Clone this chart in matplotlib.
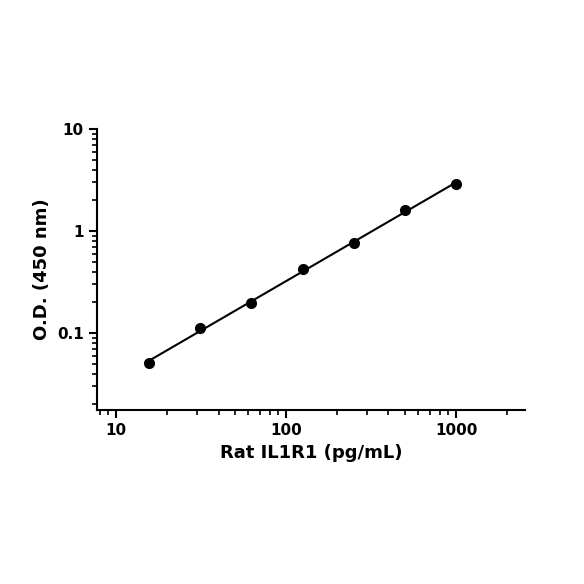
import numpy as np
import matplotlib
matplotlib.use('Agg')
import matplotlib.pyplot as plt
from matplotlib.ticker import LogLocator, NullFormatter, FixedFormatter, FixedLocator

conc = [15.6, 31.25, 62.5, 125, 250, 500, 1000]
od = [0.051, 0.112, 0.197, 0.42, 0.76, 1.6, 2.9]

fig = plt.figure(figsize=(5.84, 5.84), dpi=100)
ax = fig.add_axes([0.166, 0.298, 0.733, 0.481])

# straight line fit in log-log space
p = np.polyfit(np.log10(conc), np.log10(od), 1)
xf = np.logspace(np.log10(conc[0]), np.log10(conc[-1]), 50)
ax.plot(xf, 10 ** np.polyval(p, np.log10(xf)), color='black', lw=1.5)
ax.plot(conc, od, 'o', color='black', ms=7)

ax.set_xscale('log')
ax.set_yscale('log')
ax.set_xlim(7.7, 2545)
ax.set_ylim(0.0176, 10)

ax.xaxis.set_major_locator(FixedLocator([10, 100, 1000]))
ax.xaxis.set_major_formatter(FixedFormatter(['10', '100', '1000']))
ax.yaxis.set_major_locator(FixedLocator([0.1, 1, 10]))
ax.yaxis.set_major_formatter(FixedFormatter(['0.1', '1', '10']))
ax.xaxis.set_minor_locator(LogLocator(base=10, subs=np.arange(2, 10)))
ax.yaxis.set_minor_locator(LogLocator(base=10, subs=np.arange(2, 10)))
ax.xaxis.set_minor_formatter(NullFormatter())
ax.yaxis.set_minor_formatter(NullFormatter())

for s in ['top', 'right']:
    ax.spines[s].set_visible(False)
for s in ['left', 'bottom']:
    ax.spines[s].set_linewidth(1.5)
ax.tick_params(which='major', length=6, width=1.5, labelsize=11)
ax.tick_params(which='minor', length=3.5, width=1.2)
for lab in ax.get_xticklabels() + ax.get_yticklabels():
    lab.set_fontweight('bold')

ax.set_xlabel('Rat IL1R1 (pg/mL)', fontsize=13, fontweight='bold')
ax.set_ylabel('O.D. (450 nm)', fontsize=13, fontweight='bold')

fig.savefig('out.png', dpi=100)
